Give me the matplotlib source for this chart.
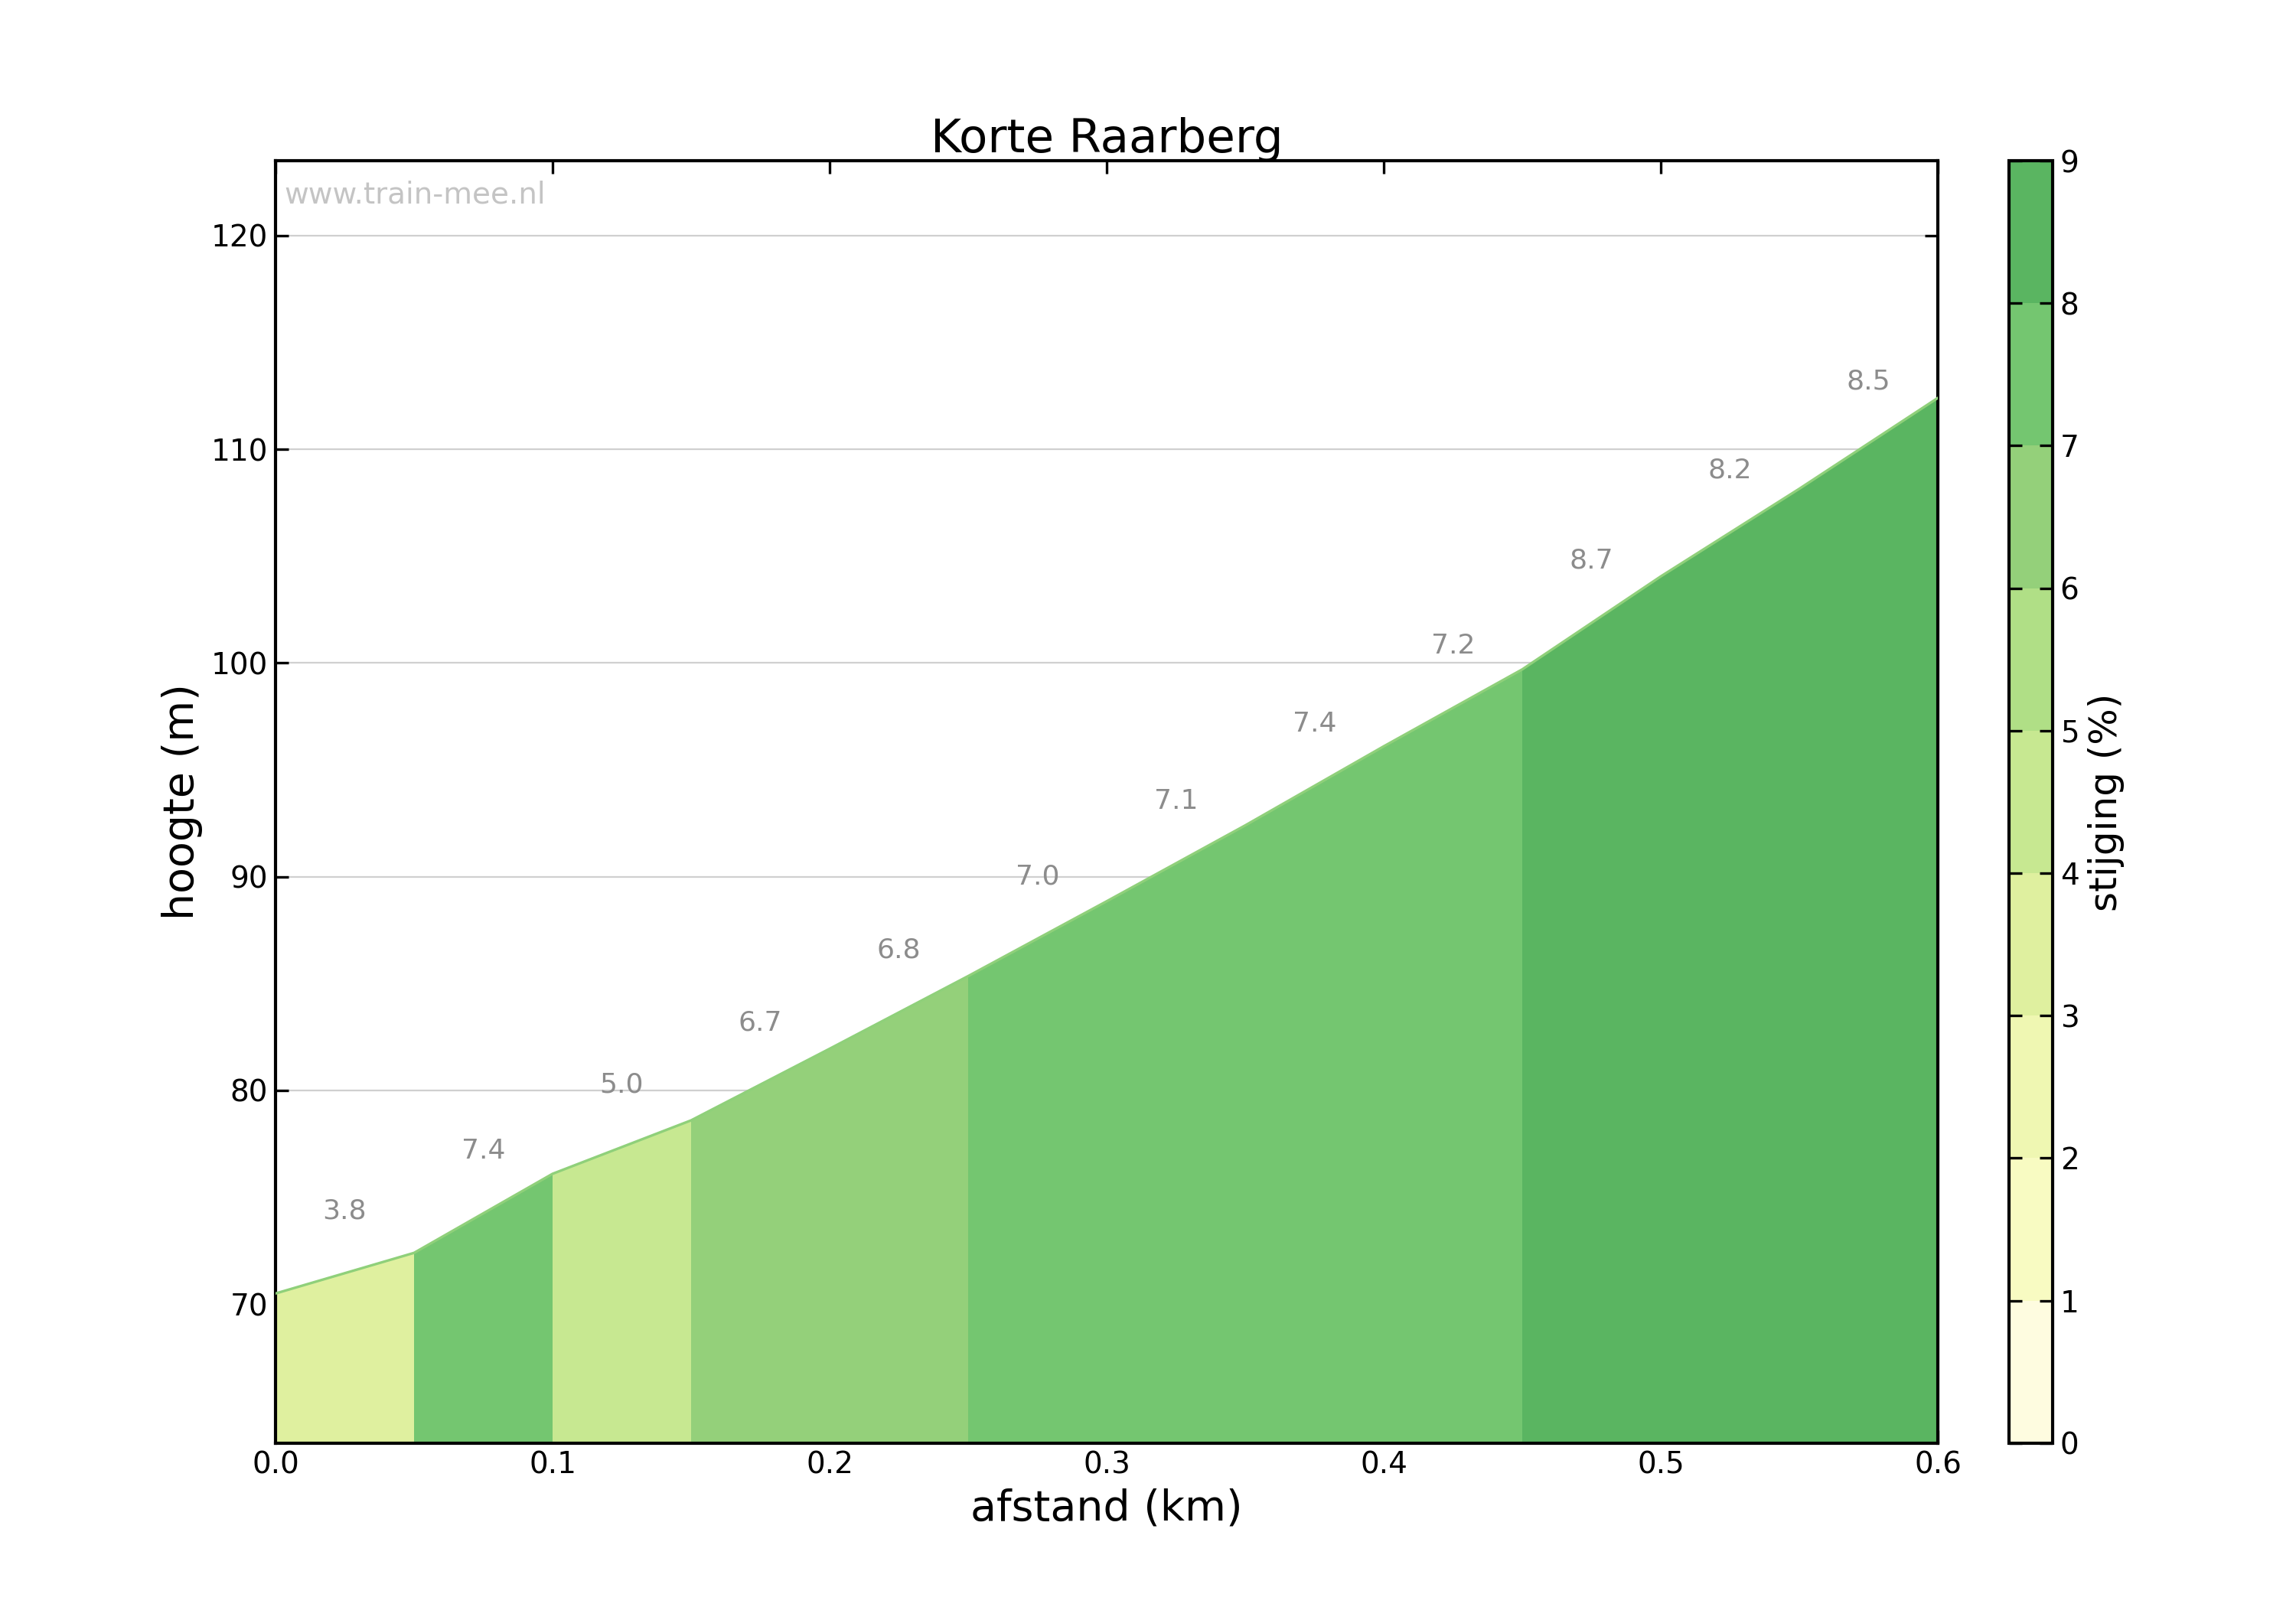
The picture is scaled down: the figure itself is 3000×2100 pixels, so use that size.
import matplotlib
matplotlib.use("Agg")
import matplotlib.pyplot as plt
from matplotlib.colors import ListedColormap, BoundaryNorm
import numpy as np

dist = [0.0, 0.05, 0.1, 0.15, 0.2, 0.25, 0.3, 0.35, 0.4, 0.45, 0.5, 0.55, 0.6]
elev = [70.5, 72.4, 76.1, 78.6, 81.95, 85.35, 88.85, 92.4, 96.1, 99.7, 104.05, 108.15, 112.4]
grad_labels = [3.8, 7.4, 5.0, 6.7, 6.8, 7.0, 7.1, 7.4, 7.2, 8.7, 8.2, 8.5]
fill_breaks = [0.0, 0.05, 0.1, 0.15, 0.25, 0.45, 0.6]
fill_grades = [3.8, 7.4, 4.9, 6.75, 7.2, 8.5]
cmap_colors = ["#fefce0", "#f8fbc2", "#eff7b2", "#dff09f", "#c7e891", "#b0df86", "#94d07a", "#74c670", "#5ab561"]

cmap = ListedColormap(cmap_colors)
norm = BoundaryNorm(np.arange(0, 10), cmap.N)

fig = plt.figure(figsize=(15, 10.5), dpi=200)
ax = fig.add_axes([0.12, 0.102, 0.724, 0.798])
x = np.array(dist); y = np.array(elev)
for i in range(len(fill_grades)):
    a, b = fill_breaks[i], fill_breaks[i+1]
    m = (x >= a - 1e-9) & (x <= b + 1e-9)
    ax.fill_between(x[m], 0, y[m], color=cmap(norm(fill_grades[i])), lw=0, zorder=2)
ax.plot(x, y, color="#8fd07a", lw=1.2, zorder=3)
for i, g in enumerate(grad_labels):
    xm = (dist[i] + dist[i+1]) / 2
    ym = (elev[i] + elev[i+1]) / 2
    ax.text(xm, ym + 2.3, f"{g:.1f}", ha="center", va="bottom", color="#8c8c8c", fontsize=13)

ax.set_xlim(0, 0.6)
ax.set_ylim(63.5, 123.5)
ax.set_yticks([70, 80, 90, 100, 110, 120])
ax.set_xticks(np.arange(0, 0.61, 0.1))
ax.set_xticklabels([f"{v:.1f}" for v in np.arange(0, 0.61, 0.1)])
ax.grid(axis="y", color="#d0d0d0", lw=0.8, zorder=1)
ax.set_axisbelow(True)
ax.tick_params(direction="in", top=True, right=True, labelsize=14, length=6, width=1.2)
for s in ax.spines.values():
    s.set_linewidth(1.5)
ax.set_xlabel("afstand (km)", fontsize=20)
ax.set_ylabel("hoogte (m)", fontsize=20)
ax.set_title("Korte Raarberg", fontsize=22, pad=4)
ax.text(0.005, 0.985, "www.train-mee.nl", transform=ax.transAxes, color="#c4c4c4", fontsize=14, va="top")

cax = fig.add_axes([0.875, 0.102, 0.019, 0.798])
sm = matplotlib.cm.ScalarMappable(cmap=cmap, norm=norm)
cb = fig.colorbar(sm, cax=cax, ticks=range(10))
cb.outline.set_linewidth(1.5)
cax.tick_params(direction="in", labelsize=14, length=6, width=1.2, left=True)
cb.set_label("stijging (%)", fontsize=18)
fig.savefig("out.png", dpi=200)
